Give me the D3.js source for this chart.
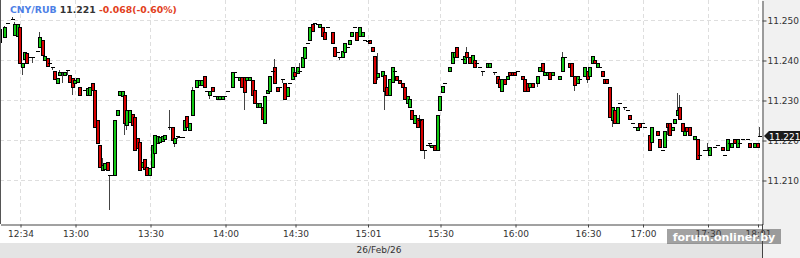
<!DOCTYPE html>
<html>
<head>
<meta charset="utf-8">
<script src="https://cdn.jsdelivr.net/npm/d3@7"></script>
<style>
  html, body { margin: 0; padding: 0; background: #fff; }
  svg { display: block; font-family: "DejaVu Sans", sans-serif; }
</style>
</head>
<body>
<div id="viz"></div>
<script>
const width = 800;
const height = 258;
const plotRight = 762;
const plotBottom = 224;

const symbol = 'CNY/RUB';
const lastPrice = 11.221;
const change = '-0.068(-0.60%)';
const dateLabel = '26/Feb/26';

// price grid / right axis
const priceTicks = [11.21, 11.22, 11.23, 11.24, 11.25];

// time axis: minute slot of each label
const timeSlots = [8, 30, 60, 90, 118, 147, 176, 206, 235, 257, 283, 303];
const timeLabels = ['12:34', '13:00', '13:30', '14:00', '14:30', '15:01', '15:30', '16:00', '16:30', '17:00', '17:30', '18:01'];

// [slot, open, high, low, close]  (null high/low = no wick past the body)
const candles = [
  [0, 11.2445, 11.2482, 11.2440, 11.2478], [2, 11.2458, 11.2485, null, 11.2482], [3, 11.2492, null, null, 11.2492],
  [5, 11.2502, 11.2508, null, 11.2502], [6, 11.2462, 11.2495, null, 11.2490], [7, 11.2460, null, null, 11.2490],
  [8, 11.2482, null, null, 11.2392], [9, 11.2382, null, 11.2362, 11.2392], [10, 11.2402, null, null, 11.2420],
  [11, 11.2418, null, null, 11.2392], [12, 11.2408, null, null, 11.2408], [13, 11.2408, null, 11.2392, 11.2408],
  [15, 11.2422, null, null, 11.2422], [16, 11.2432, 11.2470, null, 11.2458], [17, 11.2450, null, null, 11.2412],
  [18, 11.2400, null, null, 11.2410], [19, 11.2405, null, null, 11.2385], [20, 11.2392, null, null, 11.2392],
  [21, 11.2382, null, 11.2375, 11.2382], [22, 11.2372, null, null, 11.2352], [23, 11.2342, null, null, 11.2355],
  [24, 11.2362, 11.2375, null, 11.2370], [25, 11.2370, null, 11.2342, 11.2370], [26, 11.2362, null, null, 11.2370],
  [27, 11.2375, null, 11.2362, 11.2375], [28, 11.2362, null, null, 11.2345], [29, 11.2355, null, 11.2312, 11.2332],
  [30, 11.2342, null, null, 11.2350], [31, 11.2345, null, null, 11.2355], [32, 11.2332, null, null, 11.2312],
  [34, 11.2325, null, null, 11.2325], [35, 11.2312, null, null, 11.2330], [36, 11.2312, null, null, 11.2332],
  [37, 11.2342, null, null, 11.2325], [38, 11.2325, null, null, 11.2232], [39, 11.2250, null, null, 11.2192],
  [40, 11.2188, null, null, 11.2132], [41, 11.2125, 11.2155, null, 11.2138], [42, 11.2128, null, null, 11.2142],
  [43, 11.2145, null, null, 11.2125], [44, 11.2112, null, 11.2025, 11.2112], [45, 11.2112, null, null, 11.2112],
  [46, 11.2112, null, null, 11.2250], [47, 11.2262, null, null, 11.2275], [48, 11.2312, null, null, 11.2322],
  [49, 11.2310, null, null, 11.2322], [50, 11.2312, null, 11.2212, 11.2242], [51, 11.2238, null, 11.2225, 11.2275],
  [52, 11.2245, null, null, 11.2275], [53, 11.2265, null, null, 11.2238], [54, 11.2258, null, null, 11.2175],
  [55, 11.2205, null, null, 11.2180], [56, 11.2195, null, null, 11.2125], [57, 11.2132, null, null, 11.2145],
  [58, 11.2152, null, null, 11.2128], [59, 11.2132, null, null, 11.2112], [60, 11.2112, null, null, 11.2130],
  [61, 11.2132, null, null, 11.2188], [62, 11.2168, null, null, 11.2212], [63, 11.2192, null, null, 11.2210],
  [64, 11.2195, null, null, 11.2208], [65, 11.2198, null, null, 11.2210], [66, 11.2202, null, null, 11.2212],
  [68, 11.2232, 11.2275, 11.2225, 11.2232], [69, 11.2232, null, null, 11.2200], [70, 11.2192, null, 11.2182, 11.2205],
  [71, 11.2210, null, 11.2202, 11.2210], [72, 11.2210, null, null, 11.2208], [73, 11.2210, null, null, 11.2208],
  [74, 11.2225, null, null, 11.2250], [75, 11.2260, null, null, 11.2232], [76, 11.2225, null, null, 11.2242],
  [77, 11.2262, 11.2332, null, 11.2325], [79, 11.2332, null, null, 11.2350], [80, 11.2338, null, null, 11.2350],
  [81, 11.2338, null, null, 11.2350], [82, 11.2360, null, null, 11.2332], [83, 11.2322, null, null, 11.2322],
  [84, 11.2312, null, 11.2302, 11.2322], [85, 11.2332, null, null, 11.2322], [86, 11.2310, null, null, 11.2310],
  [87, 11.2302, null, null, 11.2310], [88, 11.2302, null, null, 11.2310], [89, 11.2302, null, null, 11.2310],
  [90, 11.2310, null, null, 11.2310], [91, 11.2322, null, null, 11.2322], [93, 11.2332, null, null, 11.2370],
  [94, 11.2370, null, 11.2358, 11.2370], [95, 11.2358, null, null, 11.2358], [96, 11.2350, null, null, 11.2358],
  [97, 11.2358, null, null, 11.2332], [98, 11.2358, null, 11.2275, 11.2320], [99, 11.2350, null, null, 11.2358],
  [100, 11.2350, null, null, 11.2358], [101, 11.2350, null, null, 11.2312], [102, 11.2325, null, null, 11.2292],
  [103, 11.2282, null, null, 11.2292], [104, 11.2282, null, null, 11.2292], [105, 11.2282, null, null, 11.2252],
  [106, 11.2242, null, null, 11.2310], [107, 11.2318, null, null, 11.2325], [108, 11.2322, null, null, 11.2360],
  [109, 11.2372, null, null, 11.2372], [110, 11.2382, 11.2402, null, 11.2342], [111, 11.2332, null, null, 11.2322],
  [112, 11.2332, null, null, 11.2332], [113, 11.2352, null, 11.2342, 11.2352], [114, 11.2342, null, null, 11.2302],
  [115, 11.2310, null, null, 11.2332], [116, 11.2342, null, null, 11.2342], [117, 11.2352, null, null, 11.2382],
  [118, 11.2370, null, null, 11.2360], [119, 11.2368, null, null, 11.2382], [120, 11.2372, 11.2392, null, 11.2372],
  [121, 11.2382, null, null, 11.2408], [122, 11.2405, null, null, 11.2432], [123, 11.2442, null, null, 11.2442],
  [124, 11.2450, null, null, 11.2482], [125, 11.2490, null, null, 11.2472], [126, 11.2492, null, null, 11.2492],
  [127, 11.2490, null, null, 11.2490], [128, 11.2482, null, null, 11.2490], [129, 11.2482, null, null, 11.2460],
  [130, 11.2470, null, null, 11.2452], [131, 11.2482, null, null, 11.2482], [133, 11.2470, null, null, 11.2442],
  [134, 11.2432, null, null, 11.2410], [135, 11.2420, null, null, 11.2420], [136, 11.2408, null, 11.2400, 11.2408],
  [137, 11.2408, null, null, 11.2422], [138, 11.2420, null, null, 11.2442], [139, 11.2432, null, null, 11.2432],
  [140, 11.2440, null, null, 11.2450], [141, 11.2460, null, null, 11.2470], [142, 11.2482, null, null, 11.2482],
  [143, 11.2470, null, null, 11.2450], [144, 11.2460, null, null, 11.2482], [145, 11.2460, null, null, 11.2470],
  [146, 11.2450, null, null, 11.2450], [147, 11.2448, null, null, 11.2448], [148, 11.2450, null, null, 11.2442],
  [149, 11.2432, null, null, 11.2422], [150, 11.2410, null, null, 11.2342], [151, 11.2358, 11.2418, 11.2350, 11.2368],
  [153, 11.2360, null, null, 11.2372], [154, 11.2362, null, 11.2275, 11.2322], [155, 11.2332, null, null, 11.2312],
  [156, 11.2312, null, null, 11.2352], [157, 11.2345, null, null, 11.2382], [158, 11.2372, null, null, 11.2372],
  [159, 11.2360, null, null, 11.2350], [160, 11.2350, null, null, 11.2342], [161, 11.2342, null, null, 11.2332],
  [162, 11.2332, null, null, 11.2302], [163, 11.2292, null, null, 11.2310], [164, 11.2282, null, null, 11.2302],
  [165, 11.2275, null, null, 11.2252], [166, 11.2242, null, null, 11.2262], [167, 11.2255, null, null, 11.2232],
  [168, 11.2250, 11.2262, 11.2232, 11.2250], [169, 11.2252, null, null, 11.2175], [170, 11.2175, null, 11.2152, 11.2175],
  [171, 11.2188, null, null, 11.2188], [172, 11.2192, null, 11.2182, 11.2192], [173, 11.2182, null, null, 11.2188],
  [174, 11.2188, null, null, 11.2175], [175, 11.2175, null, null, 11.2262], [176, 11.2275, null, null, 11.2310],
  [177, 11.2320, null, null, 11.2335], [178, 11.2342, null, null, 11.2342], [180, 11.2372, null, null, 11.2382],
  [181, 11.2392, null, null, 11.2420], [182, 11.2408, null, null, 11.2420], [183, 11.2432, null, null, 11.2408],
  [185, 11.2402, null, null, 11.2402], [186, 11.2392, null, null, 11.2410], [187, 11.2420, 11.2432, null, 11.2408],
  [188, 11.2408, null, null, 11.2392], [189, 11.2392, null, null, 11.2412], [190, 11.2400, null, null, 11.2382],
  [191, 11.2392, null, 11.2382, 11.2392], [192, 11.2382, null, null, 11.2382], [193, 11.2372, null, 11.2360, 11.2372],
  [195, 11.2382, null, null, 11.2392], [196, 11.2382, null, null, 11.2392], [198, 11.2370, null, 11.2362, 11.2370],
  [199, 11.2360, null, null, 11.2342], [200, 11.2352, null, null, 11.2332], [201, 11.2322, null, null, 11.2352],
  [202, 11.2352, null, null, 11.2340], [203, 11.2352, null, null, 11.2360], [204, 11.2370, null, null, 11.2362],
  [205, 11.2370, null, null, 11.2362], [206, 11.2370, null, null, 11.2362], [207, 11.2372, null, null, 11.2372],
  [209, 11.2360, null, null, 11.2352], [210, 11.2352, null, null, 11.2322], [211, 11.2342, null, null, 11.2322],
  [212, 11.2332, null, null, 11.2342], [213, 11.2342, null, null, 11.2332], [215, 11.2342, null, 11.2332, 11.2360],
  [216, 11.2372, null, null, 11.2382], [217, 11.2392, null, null, 11.2372], [218, 11.2362, null, null, 11.2370],
  [219, 11.2362, null, null, 11.2370], [220, 11.2370, null, null, 11.2352], [221, 11.2362, null, null, 11.2370],
  [224, 11.2352, null, null, 11.2360], [225, 11.2372, 11.2420, null, 11.2408], [226, 11.2408, null, null, 11.2408],
  [228, 11.2392, null, null, 11.2382], [229, 11.2392, null, null, 11.2360], [230, 11.2360, null, 11.2322, 11.2338],
  [231, 11.2342, null, null, 11.2360], [232, 11.2352, null, null, 11.2352], [234, 11.2360, null, null, 11.2382],
  [235, 11.2372, null, 11.2342, 11.2352], [236, 11.2360, null, null, 11.2382], [237, 11.2392, null, null, 11.2410],
  [238, 11.2400, null, null, 11.2392], [239, 11.2382, null, null, 11.2392], [240, 11.2382, null, null, 11.2382],
  [241, 11.2372, null, null, 11.2360], [242, 11.2352, null, null, 11.2342], [243, 11.2352, null, null, 11.2342],
  [244, 11.2332, null, null, 11.2258], [245, 11.2250, null, 11.2232, 11.2282], [246, 11.2275, null, null, 11.2242],
  [247, 11.2242, null, null, 11.2282], [248, 11.2292, null, null, 11.2292], [250, 11.2282, null, 11.2275, 11.2282],
  [251, 11.2275, null, null, 11.2275], [252, 11.2262, null, null, 11.2252], [253, 11.2242, null, null, 11.2242],
  [254, 11.2232, null, null, 11.2232], [255, 11.2225, null, null, 11.2232], [256, 11.2242, null, null, 11.2232],
  [257, 11.2242, null, null, 11.2242], [258, 11.2232, null, null, 11.2232], [260, 11.2212, null, null, 11.2175],
  [261, 11.2195, null, null, 11.2232], [263, 11.2222, null, null, 11.2212], [264, 11.2202, null, null, 11.2182],
  [265, 11.2175, null, null, 11.2175], [266, 11.2182, null, null, 11.2222], [267, 11.2242, null, 11.2212, 11.2232],
  [268, 11.2242, null, null, 11.2212], [269, 11.2225, null, null, 11.2232], [270, 11.2242, null, null, 11.2252],
  [271, 11.2262, 11.2318, null, 11.2275], [272, 11.2282, 11.2312, null, 11.2252], [273, 11.2242, null, null, 11.2222],
  [274, 11.2212, null, null, 11.2222], [275, 11.2232, null, null, 11.2222], [276, 11.2232, null, null, 11.2212],
  [278, 11.2202, null, null, 11.2210], [279, 11.2202, null, null, 11.2152], [280, 11.2162, null, null, 11.2162],
  [282, 11.2175, null, null, 11.2175], [283, 11.2175, 11.2192, null, 11.2175], [284, 11.2162, null, null, 11.2182],
  [286, 11.2182, null, null, 11.2182], [287, 11.2188, null, null, 11.2188], [289, 11.2182, null, null, 11.2175],
  [290, 11.2162, null, null, 11.2162], [291, 11.2175, null, null, 11.2202], [292, 11.2192, null, null, 11.2192],
  [293, 11.2182, null, null, 11.2192], [294, 11.2202, null, null, 11.2192], [295, 11.2182, null, null, 11.2202],
  [296, 11.2192, null, null, 11.2192], [297, 11.2202, null, null, 11.2202], [299, 11.2202, null, null, 11.2202],
  [300, 11.2192, null, null, 11.2182], [302, 11.2182, null, null, 11.2192], [303, 11.2192, null, null, 11.2182],
  [304, 11.2210, 11.2232, null, 11.2210]
];

const upColor = '#12c812';
const downColor = '#d80000';

const svg = d3.select('#viz')
  .append('svg')
    .attr('width', width)
    .attr('height', height)
    .attr('viewBox', [0, 0, width, height]);

const scaleX = d3.scaleLinear()
  .domain([0, 304.8])
  .range([0, plotRight]);

const scaleY = d3.scaleLinear()
  .domain([11.199, 11.255])
  .range([plotBottom, 0]);

// backgrounds
svg.append('rect')
  .attr('x', plotRight).attr('y', 0)
  .attr('width', width - plotRight).attr('height', height)
  .attr('fill', '#f1f1f1');
svg.append('rect')
  .attr('x', 0).attr('y', 243)
  .attr('width', plotRight).attr('height', height - 243)
  .attr('fill', '#e4e4e4');

// dashed grid
const grid = svg.append('g')
  .attr('stroke', '#dedede')
  .attr('stroke-dasharray', '4,3');
grid.selectAll('line.h')
  .data(priceTicks)
  .join('line')
    .attr('class', 'h')
    .attr('x1', 0).attr('x2', plotRight)
    .attr('y1', d => Math.round(scaleY(d)) + 0.5)
    .attr('y2', d => Math.round(scaleY(d)) + 0.5);
grid.selectAll('line.v')
  .data(timeSlots)
  .join('line')
    .attr('class', 'v')
    .attr('y1', 0).attr('y2', plotBottom)
    .attr('x1', d => Math.round(scaleX(d)) + 0.5)
    .attr('x2', d => Math.round(scaleX(d)) + 0.5);

// candles
const cx = d => Math.round(scaleX(d[0]));
const hi = d => d[2] === null ? Math.max(d[1], d[4]) : d[2];
const lo = d => d[3] === null ? Math.min(d[1], d[4]) : d[3];

const candleG = svg.append('g');

candleG.selectAll('line.wick')
  .data(candles.filter(d => d[2] !== null || d[3] !== null))
  .join('line')
    .attr('class', 'wick')
    .attr('x1', d => cx(d) - 0.5)
    .attr('x2', d => cx(d) - 0.5)
    .attr('y1', d => Math.round(scaleY(hi(d))))
    .attr('y2', d => Math.round(scaleY(lo(d))))
    .attr('stroke', '#444')
    .attr('stroke-width', 1);

candleG.selectAll('rect.body')
  .data(candles.filter(d => Math.abs(scaleY(d[1]) - scaleY(d[4])) >= 1.5))
  .join('rect')
    .attr('class', 'body')
    .attr('x', d => cx(d) - 1.5)
    .attr('width', 3)
    .attr('y', d => Math.round(scaleY(Math.max(d[1], d[4]))) + 0.5)
    .attr('height', d => Math.max(1, Math.round(scaleY(Math.min(d[1], d[4]))) - Math.round(scaleY(Math.max(d[1], d[4])))))
    .attr('fill', d => d[4] >= d[1] ? upColor : downColor)
    .attr('stroke', '#000')
    .attr('stroke-width', 1);

candleG.selectAll('line.doji')
  .data(candles.filter(d => Math.abs(scaleY(d[1]) - scaleY(d[4])) < 1.5))
  .join('line')
    .attr('class', 'doji')
    .attr('x1', d => cx(d) - 2)
    .attr('x2', d => cx(d) + 2)
    .attr('y1', d => Math.round(scaleY(d[4])) + 0.5)
    .attr('y2', d => Math.round(scaleY(d[4])) + 0.5)
    .attr('stroke', '#000')
    .attr('stroke-width', 1);

// left frame line
svg.append('line')
  .attr('x1', 0.5).attr('x2', 0.5)
  .attr('y1', 0).attr('y2', plotBottom)
  .attr('stroke', '#555');

// bottom axis
const axisBottom = d3.axisBottom(scaleX)
  .tickValues(timeSlots)
  .tickFormat((d, i) => timeLabels[i])
  .tickSizeInner(3)
  .tickSizeOuter(0);
const xAxis = svg.append('g')
  .attr('transform', `translate(0.5,${plotBottom + 0.5})`)
  .call(axisBottom);
xAxis.select('.domain').attr('stroke', '#444');
xAxis.selectAll('.tick line').attr('stroke', '#444');
xAxis.selectAll('.tick text')
  .attr('fill', '#333')
  .attr('y', 6)
  .style('font-family', '"DejaVu Sans", sans-serif')
  .style('font-size', '9px');

// right axis
const axisRight = d3.axisRight(scaleY)
  .tickValues(priceTicks)
  .tickFormat(d3.format('.3f'))
  .tickSizeInner(4)
  .tickSizeOuter(0);
const yAxis = svg.append('g')
  .attr('transform', `translate(${plotRight + 0.5},0.5)`)
  .call(axisRight);
yAxis.select('.domain').attr('stroke', '#444');
yAxis.selectAll('.tick line').attr('stroke', '#444');
yAxis.selectAll('.tick text')
  .attr('fill', '#333')
  .attr('x', 5)
  .style('font-family', '"DejaVu Sans", sans-serif')
  .style('font-size', '9px');
svg.append('line')
  .attr('x1', plotRight + 0.5).attr('x2', plotRight + 0.5)
  .attr('y1', plotBottom).attr('y2', height)
  .attr('stroke', '#444');

// date label
svg.append('text')
  .attr('x', 379)
  .attr('y', 253)
  .attr('text-anchor', 'middle')
  .attr('fill', '#333')
  .style('font-size', '9px')
  .text(dateLabel);

// last price marker
const ly = Math.round(scaleY(lastPrice));
svg.append('path')
  .attr('d', `M${plotRight + 2},${ly} L${plotRight + 7},${ly - 5} L${width},${ly - 5} L${width},${ly + 5} L${plotRight + 7},${ly + 5} Z`)
  .attr('fill', '#1b1b1b');
svg.append('text')
  .attr('x', plotRight + 7)
  .attr('y', ly + 3.5)
  .attr('fill', '#fff')
  .style('font-size', '9px')
  .text(d3.format('.3f')(lastPrice));

// header
const header = svg.append('text')
  .attr('x', 10)
  .attr('y', 13)
  .style('font-size', '9.3px')
  .style('font-weight', 'bold');
header.append('tspan').attr('fill', '#4d7fe6').text(symbol + ' ');
header.append('tspan').attr('fill', '#333').text(d3.format('.3f')(lastPrice) + ' ');
header.append('tspan').attr('fill', '#e2401c').text(change);

// watermark
svg.append('rect')
  .attr('x', 667).attr('y', 229)
  .attr('width', 114).attr('height', 15)
  .attr('fill', 'rgba(70,70,70,0.5)');
svg.append('text')
  .attr('x', 724)
  .attr('y', 241)
  .attr('text-anchor', 'middle')
  .attr('fill', '#fff')
  .style('font-size', '11px')
  .style('font-weight', 'bold')
  .text('forum.onliner.by');
</script>
</body>
</html>
